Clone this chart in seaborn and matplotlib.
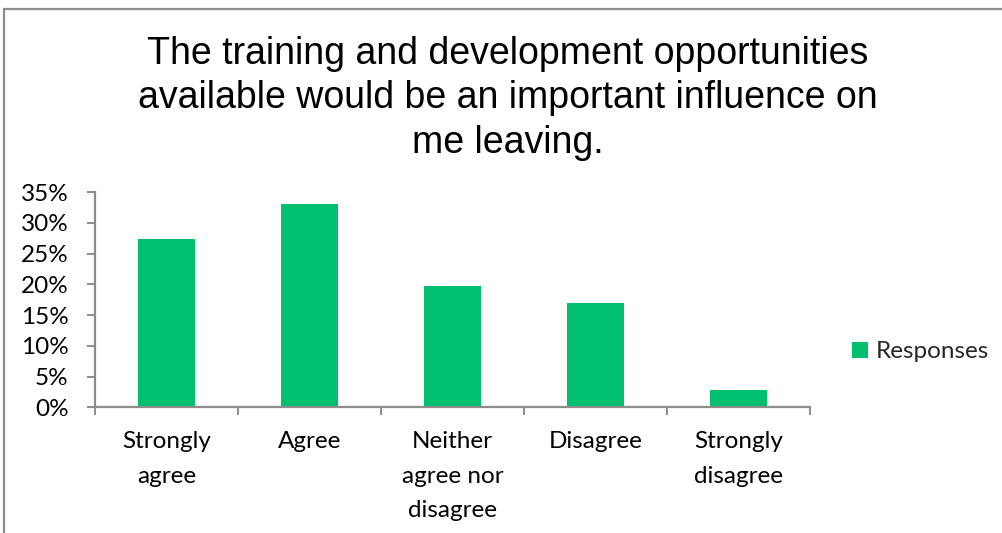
import matplotlib
matplotlib.use("Agg")
import matplotlib.pyplot as plt
from matplotlib.patches import Rectangle
from matplotlib.ticker import PercentFormatter, FixedLocator
import seaborn as sns
import pandas as pd

# Survey responses (share of respondents, %)
categories = ["Strongly\nagree", "Agree", "Neither\nagree nor\ndisagree", "Disagree", "Strongly\ndisagree"]
responses = [27.4, 33.1, 19.8, 17.0, 2.8]
series_name = "Responses"
title = "The training and development opportunities\navailable would be an important influence on\nme leaving."

sns.set_theme(style="white")
plt.rcParams["font.family"] = ["Lato", "DejaVu Sans"]

bar_color = "#00BF6F"
axis_color = "#8C8C8C"

W, H = 1003, 533
fig = plt.figure(figsize=(W / 100, H / 100), dpi=100)
fig.patch.set_facecolor("white")

# outer chart frame
fig.patches.append(Rectangle((4 / W, -0.1), 1.2, 1 - 9 / H + 0.1, transform=fig.transFigure,
                             fill=False, edgecolor=axis_color, linewidth=1.6, zorder=0))

ax = fig.add_axes([95 / W, 1 - 407.3 / H, (810 - 95) / W, (407.3 - 192) / H])
df = pd.DataFrame({"category": categories, "value": responses})
sns.barplot(data=df, x="category", y="value", color=bar_color, saturation=1,
            width=0.4, ax=ax, label=series_name, edgecolor="none")

ax.set_xlim(-0.5, len(categories) - 0.5)
ax.set_ylim(0, 35)
ax.set_yticks(range(0, 36, 5))
ax.yaxis.set_major_formatter(PercentFormatter(xmax=100, decimals=0))

# category boundary ticks on the x axis, labels at centres
ax.xaxis.set_major_locator(FixedLocator([i - 0.5 for i in range(len(categories) + 1)]))
ax.xaxis.set_minor_locator(FixedLocator(list(range(len(categories)))))
ax.set_xticklabels([], minor=False)
ax.set_xticklabels(categories, minor=True)
ax.tick_params(axis="x", which="major", direction="out", length=6, width=1.4,
               color=axis_color, bottom=True)
ax.tick_params(axis="x", which="minor", length=0, pad=17, labelsize=17.5, labelcolor="black")
ax.tick_params(axis="y", direction="out", length=6, width=1.4, color=axis_color,
               left=True, pad=13, labelsize=17.5, labelcolor="black")
for lbl in ax.get_xticklabels(minor=True):
    lbl.set_horizontalalignment("center")
    lbl.set_verticalalignment("top")
    lbl.set_linespacing(1.8)

ax.set_xlabel("")
ax.set_ylabel("")
for side in ["top", "right"]:
    ax.spines[side].set_visible(False)
for side in ["left", "bottom"]:
    ax.spines[side].set_color(axis_color)
    ax.spines[side].set_linewidth(1.6)
ax.set_facecolor("white")

leg = ax.legend(loc="center left", bbox_to_anchor=(842 / W, 1 - 352 / H),
                bbox_transform=fig.transFigure, frameon=False, fontsize=17.5,
                handlelength=0.65, handleheight=0.65, handletextpad=0.35, borderaxespad=0)

fig.text(0.506, 1 - 36 / H, title, ha="center", va="top", fontsize=27,
         family=["Liberation Sans", "DejaVu Sans"], color="black", linespacing=1.3)

fig.savefig("out.png", dpi=100, facecolor="white")
